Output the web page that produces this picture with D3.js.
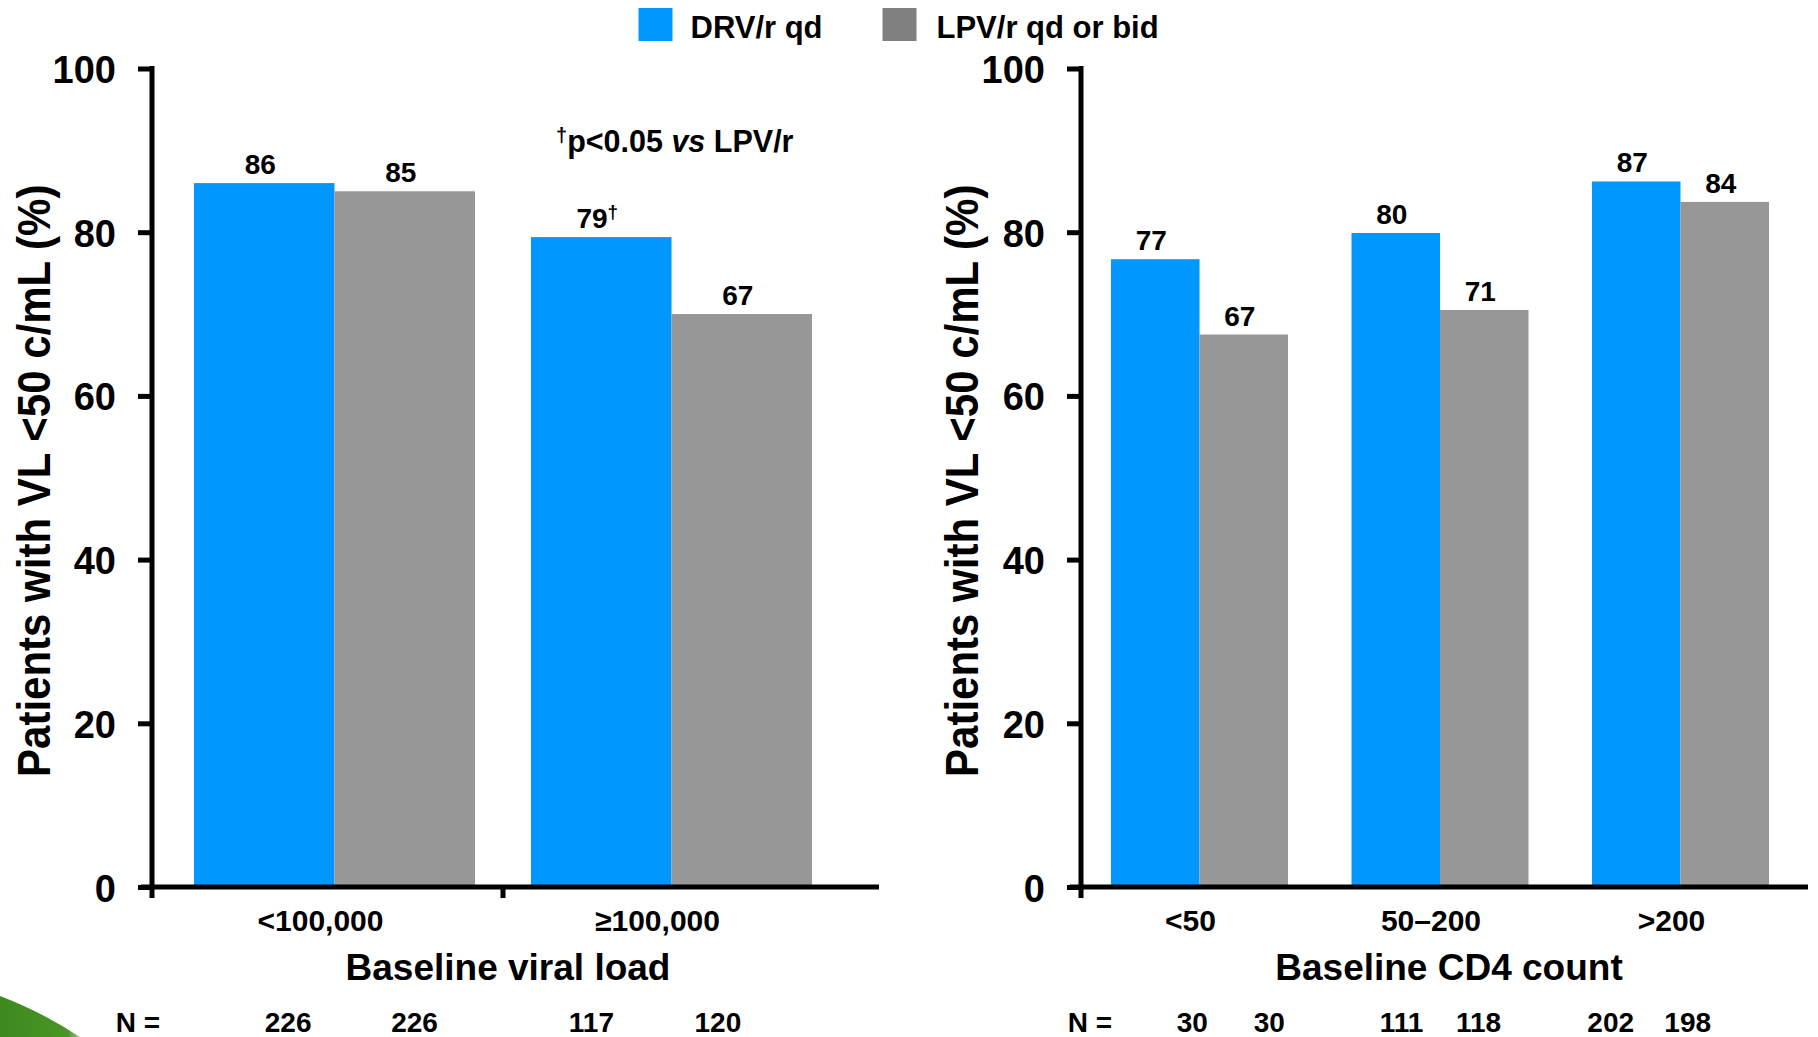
<!DOCTYPE html>
<html><head><meta charset="utf-8">
<script src="https://cdn.jsdelivr.net/npm/d3@7"></script>
<style>
body{margin:0;background:#fff}
svg{display:block}
text{font-family:"Liberation Sans",Arial,sans-serif;font-weight:bold;fill:#000}
</style>
</head><body>
<svg id="chart" width="1818" height="1037"></svg>
<script>
// ---------- data ----------
const seriesNames = ["DRV/r qd", "LPV/r qd or bid"];
const barColors = ["#0098fe", "#979797"];
const legendColors = ["#0098fe", "#808080"];
const yTicks = [0, 20, 40, 60, 80, 100];
const yTitle = "Patients with VL <50 c/mL (%)";

const vlCategories = ["<100,000", "\u2265100,000"];
const vlDRV = [86, 79.4];
const vlLPV = [85, 70];
const vlDRVLabels = ["86", "79"];
const vlDRVMarks = ["", "\u2020"];
const vlLPVLabels = ["85", "67"];
const vlNDRV = ["226", "117"];
const vlNLPV = ["226", "120"];

const cd4Categories = ["<50", "50\u2013200", ">200"];
const cd4DRV = [76.7, 79.9, 86.2];
const cd4LPV = [67.5, 70.5, 83.7];
const cd4DRVLabels = ["77", "80", "87"];
const cd4DRVMarks = ["", "", ""];
const cd4LPVLabels = ["67", "71", "84"];
const cd4NDRV = ["30", "111", "202"];
const cd4NLPV = ["30", "118", "198"];

// ---------- layout ----------
const svg = d3.select("#chart");
const yBase = 887, yTop = 68.5;
const y = d3.scaleLinear().domain([0, 100]).range([yBase, yTop]);

const panels = [
  {cats: vlCategories, drv: vlDRV, lpv: vlLPV, drvL: vlDRVLabels, drvM: vlDRVMarks, lpvL: vlLPVLabels,
   nD: vlNDRV, nL: vlNLPV, xTitle: "Baseline viral load",
   range: [194, 812], padIn: 0.1662, axisX: 152, axisEnd: 879, catDx: -14, xTitleX: 508,
   nX: 138, nK: 0.9, yTitleX: 50, midTicks: true},
  {cats: cd4Categories, drv: cd4DRV, lpv: cd4LPV, drvL: cd4DRVLabels, drvM: cd4DRVMarks, lpvL: cd4LPVLabels,
   nD: cd4NDRV, nL: cd4NLPV, xTitle: "Baseline CD4 count",
   range: [1111, 1769], padIn: 0.264, axisX: 1081, axisEnd: 1808, catDx: -9, xTitleX: 1449,
   nX: 1090, nK: 0.87, yTitleX: 978, midTicks: false}
];

panels.forEach(p => {
  const g = svg.append("g");
  const x0 = d3.scaleBand().domain(p.cats).range(p.range).paddingInner(p.padIn).paddingOuter(0);
  const x1 = d3.scaleBand().domain(seriesNames).range([0, x0.bandwidth()]);
  const cx = (p.range[0] + p.range[1]) / 2;

  const rows = p.cats.map((c, i) => ({cat: c, vals: [
    {cat: c, s: seriesNames[0], v: p.drv[i], lab: p.drvL[i], mark: p.drvM[i], n: p.nD[i]},
    {cat: c, s: seriesNames[1], v: p.lpv[i], lab: p.lpvL[i], mark: "", n: p.nL[i]}
  ]}));

  const grp = g.selectAll("g.grp").data(rows).join("g")
    .attr("transform", d => `translate(${x0(d.cat)},0)`);

  grp.selectAll("rect").data(d => d.vals).join("rect")
    .attr("x", d => x1(d.s))
    .attr("width", x1.bandwidth())
    .attr("y", d => y(d.v))
    .attr("height", d => y(0) - y(d.v))
    .attr("fill", (d, i) => barColors[i]);

  const vt = grp.selectAll("text.val").data(d => d.vals).join("text")
    .attr("class", "val")
    .attr("x", d => x1(d.s) + x1.bandwidth() / 2 - 4)
    .attr("y", d => y(d.v) - 9)
    .attr("text-anchor", "middle")
    .attr("font-size", 28);
  vt.append("tspan").text(d => d.lab);
  vt.filter(d => d.mark).append("tspan").text(d => d.mark)
    .attr("font-size", 19).attr("dy", -10);

  // N row (compressed toward panel centre)
  const allVals = rows.flatMap(r => r.vals);
  g.selectAll("text.n").data(allVals).join("text")
    .attr("class", "n")
    .attr("x", d => {
      const bc = x0(d.cat) + x1(d.s) + x1.bandwidth() / 2;
      return cx + p.nK * (bc - cx);
    })
    .attr("y", 1032)
    .attr("text-anchor", "middle")
    .attr("font-size", 28)
    .text(d => d.n);
  g.append("text").attr("x", p.nX).attr("y", 1032).attr("text-anchor", "middle")
    .attr("font-size", 28).text("N =");

  // category labels
  g.selectAll("text.cat").data(p.cats).join("text")
    .attr("class", "cat")
    .attr("x", d => x0(d) + x0.bandwidth() / 2 + p.catDx)
    .attr("y", 931)
    .attr("text-anchor", "middle")
    .attr("font-size", 30)
    .text(d => d);

  // x title
  g.append("text").attr("x", p.xTitleX).attr("y", 980).attr("text-anchor", "middle")
    .attr("font-size", 37).text(p.xTitle);

  // y axis
  const yAxis = d3.axisLeft(y).tickValues(yTicks).tickSize(14).tickPadding(22).tickSizeOuter(0);
  const ya = g.append("g").attr("transform", `translate(${p.axisX},0)`).call(yAxis);
  ya.select(".domain").remove();
  ya.selectAll(".tick line").attr("stroke", "#000").attr("stroke-width", 5);
  ya.selectAll(".tick text")
    .attr("font-family", "'DejaVu Sans',sans-serif")
    .attr("font-weight", "bold")
    .attr("font-size", 38)
    .attr("fill", "#000")
    .attr("dy", "0.37em");
  g.append("line").attr("x1", p.axisX).attr("x2", p.axisX)
    .attr("y1", y(100) - 2.5).attr("y2", yBase + 11)
    .attr("stroke", "#000").attr("stroke-width", 5);
  // x axis
  g.append("line").attr("x1", p.axisX - 11).attr("x2", p.axisEnd)
    .attr("y1", yBase).attr("y2", yBase)
    .attr("stroke", "#000").attr("stroke-width", 5);
  if (p.midTicks) {
    g.selectAll("line.mid").data(p.cats.slice(1)).join("line")
      .attr("class", "mid")
      .attr("x1", d => x0(d) - x0.step() * p.padIn / 2)
      .attr("x2", d => x0(d) - x0.step() * p.padIn / 2)
      .attr("y1", yBase).attr("y2", yBase + 11)
      .attr("stroke", "#000").attr("stroke-width", 5);
  }

  // y title
  g.append("text")
    .attr("transform", `translate(${p.yTitleX},${(y(100) + y(0)) / 2 + 3}) rotate(-90) scale(1,1.08)`)
    .attr("text-anchor", "middle")
    .attr("font-size", 42)
    .text(yTitle);
});

// footnote
const fn = svg.append("text").attr("x", 556).attr("y", 152).attr("font-size", 30.5);
fn.append("tspan").text("\u2020").attr("font-size", 20).attr("dy", -10);
fn.append("tspan").text("p<0.05 ").attr("dy", 10);
fn.append("tspan").text("vs").attr("font-style", "italic");
fn.append("tspan").text(" LPV/r");

// legend
const legX = [638.5, 882.5];
const leg = svg.selectAll("g.leg").data(seriesNames).join("g")
  .attr("transform", (d, i) => `translate(${legX[i]},8)`);
leg.append("rect").attr("width", 34).attr("height", 33).attr("fill", (d, i) => legendColors[i]);
leg.append("text").attr("x", (d, i) => i === 0 ? 52 : 54).attr("y", 30).attr("font-size", 31).text(d => d);

// decorative green corner
const defs = svg.append("defs");
const grad = defs.append("linearGradient").attr("id", "gc").attr("x1", 0).attr("y1", 0).attr("x2", 1).attr("y2", 0);
grad.append("stop").attr("offset", "0%").attr("stop-color", "#3f8a1f");
grad.append("stop").attr("offset", "85%").attr("stop-color", "#4a9526");
grad.append("stop").attr("offset", "100%").attr("stop-color", "#9cc98a");
svg.append("path").attr("d", "M0,996 Q42,1012 80,1037 L0,1037 Z").attr("fill", "url(#gc)");
</script>
</body></html>
